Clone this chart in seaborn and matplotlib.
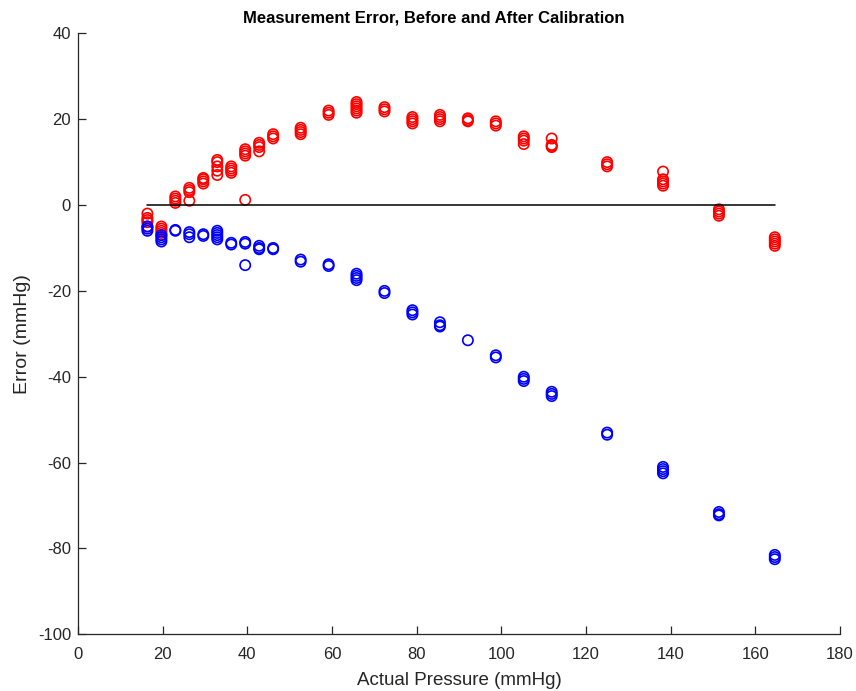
"""Measurement error before and after calibration."""

import matplotlib

matplotlib.use("Agg")

import matplotlib.pyplot as plt
import pandas as pd
import seaborn as sns


# applied pressures (mmHg)
pressure = [16.4, 19.7, 23.0, 26.3, 29.6, 32.9, 36.2, 39.5, 42.8, 46.1, 52.6, 59.2,
            65.8, 72.4, 79.0, 85.5, 92.1, 98.7, 105.3, 111.9, 125.0, 138.2, 151.4, 164.6]

# repeated readings at each pressure, red series
red_error = [
    [-2.0, -3.0, -3.5, -4.0, -5.0],
    [-5.0, -5.5, -6.0, -6.5, -7.0],
    [0.5, 1.0, 1.5, 2.0],
    [1.0, 3.0, 3.5, 4.0],
    [5.0, 5.5, 6.0, 6.3],
    [7.0, 8.0, 9.0, 10.0, 10.5],
    [7.5, 8.0, 8.5, 9.0],
    [1.2, 11.5, 12.0, 12.5, 13.0],
    [12.5, 13.5, 14.0, 14.5],
    [15.5, 16.0, 16.5],
    [16.5, 17.0, 17.5, 18.0],
    [21.0, 21.5, 22.0],
    [21.5, 22.0, 22.5, 23.0, 23.5, 24.0],
    [21.8, 22.3, 22.8],
    [19.0, 19.5, 20.0, 20.5],
    [19.5, 20.0, 20.5, 21.0],
    [19.5, 19.8, 20.2],
    [18.5, 19.0, 19.5],
    [14.2, 15.0, 15.5, 16.0],
    [13.5, 13.8, 14.0, 15.5],
    [9.0, 9.5, 10.0],
    [4.5, 5.0, 5.5, 6.0, 7.8],
    [-1.0, -1.5, -2.0, -2.5],
    [-7.5, -8.0, -8.5, -9.0, -9.5],
]

# repeated readings at each pressure, blue series
blue_error = [
    [-5.0, -5.5, -6.0],
    [-7.0, -7.5, -8.0, -8.5],
    [-5.8, -6.0],
    [-6.3, -6.8, -7.5],
    [-6.8, -7.2],
    [-6.0, -6.5, -7.0, -7.5, -8.0],
    [-8.8, -9.2],
    [-8.6, -9.0, -14.0],
    [-9.5, -10.0, -10.3],
    [-10.0, -10.3],
    [-12.7, -13.2],
    [-13.8, -14.2],
    [-16.0, -16.5, -17.0, -17.5],
    [-20.0, -20.5],
    [-24.5, -25.0, -25.5],
    [-27.3, -28.0, -28.3],
    [-31.5],
    [-35.0, -35.5],
    [-40.0, -40.5, -41.0],
    [-43.5, -44.0, -44.5],
    [-53.0, -53.5],
    [-61.0, -61.5, -62.0, -62.5],
    [-71.5, -72.0, -72.3],
    [-81.5, -82.0, -82.5],
]

x_ticks = [0, 20, 40, 60, 80, 100, 120, 140, 160, 180]
y_ticks = [-100, -80, -60, -40, -20, 0, 20, 40]


def to_frame(readings):
    rows = []
    for p, vals in zip(pressure, readings):
        for v in vals:
            rows.append({"pressure": p, "error": v})
    return pd.DataFrame(rows)


sns.set_style("white")
plt.rcParams["font.family"] = ["Liberation Sans", "DejaVu Sans"]
plt.rcParams["axes.unicode_minus"] = False
axis_grey = "#262626"

fig = plt.figure(figsize=(8.56, 6.91), dpi=100)
ax = fig.add_axes([0.0911, 0.0820, 0.8902, 0.8698])

sns.lineplot(x=[pressure[0], pressure[-1]], y=[0, 0], color="black",
             linewidth=1.1, ax=ax)
sns.scatterplot(data=to_frame(red_error), x="pressure", y="error", marker="o",
                s=55, facecolors="none", edgecolor="red", linewidth=1.2, ax=ax)
sns.scatterplot(data=to_frame(blue_error), x="pressure", y="error", marker="o",
                s=55, facecolors="none", edgecolor="blue", linewidth=1.2, ax=ax)

ax.set_xlim(0, 180)
ax.set_ylim(-100, 40)
ax.set_xticks(x_ticks)
ax.set_yticks(y_ticks)

sns.despine(ax=ax)
for side in ("left", "bottom"):
    ax.spines[side].set_color(axis_grey)
    ax.spines[side].set_linewidth(0.9)
ax.tick_params(bottom=True, left=True, direction="in", length=6, width=0.9,
               color=axis_grey, labelcolor=axis_grey, labelsize=12)
ax.tick_params(axis="x", pad=9)
ax.tick_params(axis="y", pad=5)

ax.set_xlabel("Actual Pressure (mmHg)", fontsize=13.5, color=axis_grey, labelpad=7)
ax.set_ylabel("Error (mmHg)", fontsize=14, color=axis_grey, labelpad=5)
ax.set_title("Measurement Error, Before and After Calibration", fontsize=12,
             fontweight="bold", color="black", pad=8, x=0.467)

fig.savefig("out.png", dpi=100)
plt.close(fig)
